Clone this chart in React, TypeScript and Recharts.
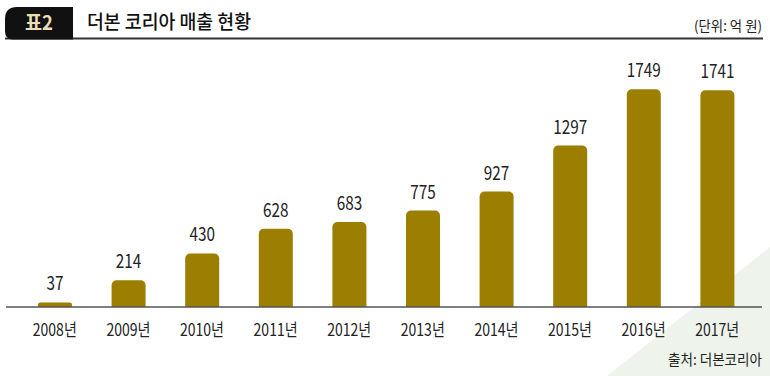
import React from 'react';
import { BarChart, Bar, XAxis, YAxis, LabelList } from 'recharts';

const years = ['2008년', '2009년', '2010년', '2011년', '2012년', '2013년', '2014년', '2015년', '2016년', '2017년'];
const sales = [37, 214, 430, 628, 683, 775, 927, 1297, 1749, 1741];

const data = years.map((year, i) => ({ year, sales: sales[i] }));

const FONT = '"Noto Sans CJK KR", "Noto Sans", sans-serif';

// the source uses a narrow gothic face, so squeeze the glyphs a bit
const YearTick = (props: any) => {
    const { x, y, payload } = props;
    return (
        <text x={x} y={y + 13} textAnchor="middle" fontSize={17} fill="#222" fontFamily={FONT}
            textLength={44} lengthAdjust="spacingAndGlyphs">
            {payload.value}
        </text>
    );
};

const ValueLabel = (props: any) => {
    const { x, y, width, value } = props;
    const s = String(value);
    return (
        <text x={x + width / 2} y={y - 12} textAnchor="middle" fontSize={19} fill="#222" fontFamily={FONT}
            textLength={s.length * 8.5} lengthAdjust="spacingAndGlyphs">
            {s}
        </text>
    );
};

const App: React.FC = () => {
    return (
        <div style={{ position: 'absolute', left: 0, top: 0, width: 770, height: 376, background: '#fff', overflow: 'hidden', fontFamily: FONT }}>
            {/* background wedge + header graphics */}
            <svg width={770} height={376} style={{ position: 'absolute', left: 0, top: 0 }}>
                <polygon points="770,247 770,376 607,376" fill="#eef3ec" />
                <line x1={5} y1={38.5} x2={763} y2={38.5} stroke="#333" strokeWidth={2} />
                <path d="M17,7 L73,7 L73,39.5 L13,39.5 Q5,39.5 5,31 L5,19 Q5,7 17,7 Z" fill="#111" />
                <text x={39} y={30} textAnchor="middle" fontSize={20} fontWeight={700} fill="#e9dfb6" fontFamily={FONT}
                    textLength={28} lengthAdjust="spacingAndGlyphs">표2</text>
                <text x={87} y={29} fontSize={19} fontWeight={500} fill="#111" fontFamily={FONT}
                    textLength={164} lengthAdjust="spacingAndGlyphs">더본 코리아 매출 현황</text>
                <text x={762} y={31} textAnchor="end" fontSize={14} fill="#222" fontFamily={FONT}
                    textLength={68} lengthAdjust="spacingAndGlyphs">(단위: 억 원)</text>
                <text x={762} y={365} textAnchor="end" fontSize={15} fill="#222" fontFamily={FONT}
                    textLength={94} lengthAdjust="spacingAndGlyphs">출처: 더본코리아</text>
            </svg>
            <div style={{ position: 'absolute', left: 0, top: 0 }}>
                <BarChart width={770} height={376} data={data} margin={{ top: 58, right: 8, left: 6, bottom: 39 }}>
                    <XAxis
                        dataKey="year"
                        height={30}
                        padding={{ left: 12, right: 8 }}
                        tickLine={false}
                        tickSize={6}
                        tickMargin={10}
                        axisLine={{ stroke: '#555', strokeWidth: 1.5 }}
                        tick={<YearTick />}
                        interval={0}
                    />
                    <YAxis hide domain={[0, 2000]} />
                    <Bar dataKey="sales" fill="#9c7f00" barSize={34} radius={[5, 5, 0, 0]} isAnimationActive={false}>
                        <LabelList dataKey="sales" content={<ValueLabel />} />
                    </Bar>
                </BarChart>
            </div>
        </div>
    );
};

export default App;
